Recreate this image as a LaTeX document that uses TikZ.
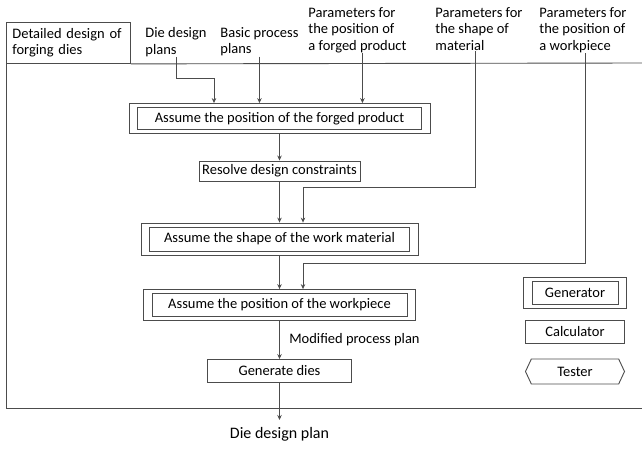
\documentclass[tikz,border=0pt]{standalone}
\usepackage{fontspec}
\setmainfont{Carlito}
\usepackage{xcolor}
\usetikzlibrary{shapes, shapes.symbols, arrows.meta, fit, positioning}
\definecolor{linegray}{gray}{0.3}
\tikzstyle{generator} = [rectangle, draw=linegray, text centered, minimum height=22pt, inner sep=2pt]
\tikzstyle{genframe} = [rectangle, draw=linegray, inner xsep=8pt, inner ysep=3.5pt]
\tikzstyle{calculator} = [rectangle, draw=linegray, text centered, minimum height=22pt, inner sep=2pt]
\tikzstyle{tester} = [signal, signal to=west and east, signal pointer angle=130, draw=linegray, text centered, minimum width=99pt, minimum height=25pt, inner sep=2pt]
\tikzstyle{param} = [align=left, inner sep=0pt, anchor=north west]
\tikzstyle{arrow} = [draw=linegray, ->, >={Stealth[length=5pt,width=4.5pt]}]

\begin{document}
\begin{tikzpicture}[x=1pt, y=1pt, node distance=66pt, line width=0.9pt, font=\fontsize{14.5}{16.5}\selectfont]
    \useasboundingbox (0,0) rectangle (642,-449);
    % frame of the whole activity
    \node(title)[rectangle, draw=linegray, anchor=north west, align=left, text width=112pt, inner xsep=6pt, minimum height=41pt] at (6,-22){Detailed design of\\forging dies};
    \draw[linegray] (title.south east) -- (642,-63);
    \draw[linegray] (title.south west) -- (6,-408) -- (642,-408);
    % inputs
    \node(dieIn)[param] at (145,-27){Die design\\plans};
    \node(basicIn)[param] at (220,-27){Basic process\\plans};
    \node(posParIn)[param] at (308,-7){Parameters for\\the position of\\a forged product};
    \node(shapeParIn)[param] at (435,-7){Parameters for\\the shape of\\material};
    \node(wpParIn)[param] at (539,-7){Parameters for\\the position of\\a workpiece};
    % main column
    \node(posProdIn)[generator, minimum width=284pt] at (279.5,-118.5){Assume the position of the forged product};
    \node(posProd)[genframe, fit=(posProdIn)]{};
    \node(resolve)[calculator, below of=posProdIn, yshift=13.5pt, minimum width=161pt, minimum height=20pt]{Resolve design constraints};
    \node(shapeMatIn)[generator, below of=resolve, yshift=-2pt, minimum width=260pt, minimum height=24pt]{Assume the shape of the work material};
    \node(shapeMat)[genframe, fit=(shapeMatIn)]{};
    \node(posWorkIn)[generator, below of=shapeMatIn, minimum width=255pt, minimum height=23pt]{Assume the position of the workpiece};
    \node(posWork)[genframe, fit=(posWorkIn)]{};
    \node(genDies)[calculator, below of=posWorkIn, minimum width=144pt, minimum height=23pt]{Generate dies};
    \node(dieOut)[anchor=north, inner xsep=2pt, inner ysep=7pt, font=\fontsize{16}{19}\selectfont] at (279.5,-420){Die design plan};
    % legend
    \node(genIn)[generator, minimum width=86pt, minimum height=23pt] at (575,-292.5){Generator};
    \node(gen)[genframe, fit=(genIn)]{};
    \node(calc)[calculator, below of=genIn, yshift=27pt, minimum width=99pt, minimum height=23pt]{Calculator};
    \node(tester)[tester, below of=calc, yshift=26pt]{Tester};
    % bends of the input lines
    \coordinate (dieBend) at (214,-78);
    \coordinate (shapeBend) at (303,-187);
    \coordinate (wpBend) at (303,-263);
    \draw [arrow] (dieIn.south) |- (dieBend) -- (dieBend |- posProd.north);
    \draw [arrow] (basicIn.south) -- (basicIn.south |- posProd.north);
    \draw [arrow] ([xshift=5pt]posParIn.south) -- ([xshift=5pt]posParIn.south |- posProd.north);
    \draw [arrow] ([xshift=-4pt]shapeParIn.south) |- (shapeBend) -- (shapeBend |- shapeMat.north);
    \draw [arrow] ([xshift=2pt]wpParIn.south) |- (wpBend) -- (wpBend |- posWork.north);
    \draw [arrow] (posProd) -- (resolve);
    \draw [arrow] (resolve.south) -- (resolve.south |- shapeMat.north);
    \draw [arrow] (shapeMat) -- (posWork);
    \draw [arrow] (posWork) -- node[anchor=west, xshift=6pt]{Modified process plan}(genDies);
    \draw [arrow] (genDies) -- (dieOut);
\end{tikzpicture}
\end{document}
